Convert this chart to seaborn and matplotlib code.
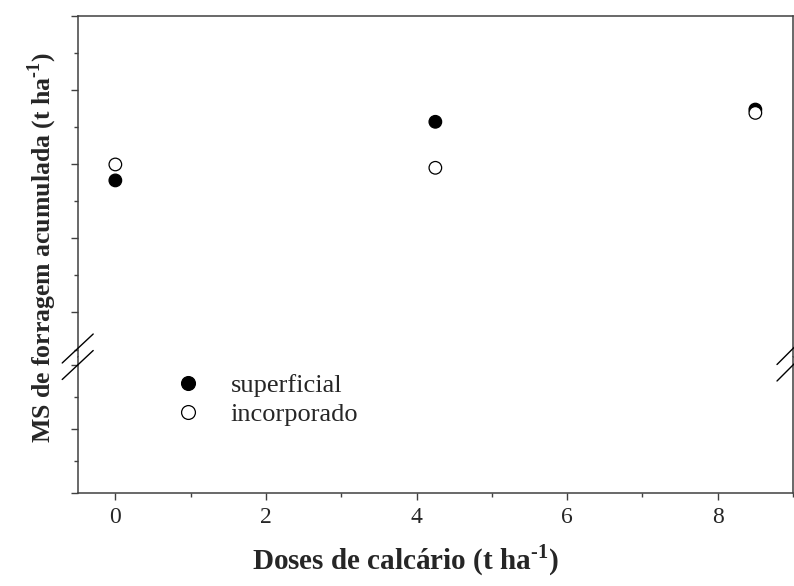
import pandas as pd
import matplotlib
matplotlib.use("Agg")
import matplotlib.pyplot as plt
from matplotlib.lines import Line2D
from matplotlib.ticker import MultipleLocator, NullFormatter
import seaborn as sns

sns.set_style("ticks")
plt.rcParams["font.family"] = ["Liberation Serif", "DejaVu Serif"]
plt.rcParams["mathtext.fontset"] = "custom"
plt.rcParams["mathtext.rm"] = "Liberation Serif"
plt.rcParams["mathtext.bf"] = "Liberation Serif:bold"

# data (y axis carries no labels, units are relative)
doses = [0, 4.25, 8.5]
superficial = [13.56, 15.14, 15.47]
incorporado = [13.99, 13.90, 15.38]
series_names = ["superficial", "incorporado"]

df = pd.DataFrame({
    "dose": doses * 2,
    "ms": superficial + incorporado,
    "metodo": [series_names[0]] * 3 + [series_names[1]] * 3,
})

W, H = 794, 586
fig = plt.figure(figsize=(W / 100, H / 100), dpi=100)

def fx(px):
    return px / W

def fy(py):
    return 1 - py / H

left, right = 77.7, 793.0
top, brk, bottom = 15.7, 357.0, 493.0
ax_top = fig.add_axes([fx(left), fy(brk), fx(right) - fx(left), fy(top) - fy(brk)])
ax_bot = fig.add_axes([fx(left), fy(bottom), fx(right) - fx(left), fy(brk) - fy(bottom)])

sns.scatterplot(data=df, x="dose", y="ms", hue="metodo",
                palette={"superficial": "black", "incorporado": "white"},
                edgecolor="black", linewidth=0.9, s=82, ax=ax_top, zorder=3)

spine_c = "#404040"
for ax in (ax_top, ax_bot):
    ax.set_xlim(-0.5, 9)
    for sp in ax.spines.values():
        sp.set_color(spine_c)
        sp.set_linewidth(1.1)
    ax.tick_params(which="both", direction="out", color=spine_c, width=1.0,
                   labelleft=False)
    ax.tick_params(which="major", length=5.2)
    ax.tick_params(which="minor", length=3.2)
    ax.set_xlabel("")
    ax.set_ylabel("")
    ax.yaxis.set_minor_locator(MultipleLocator(1))
    ax.yaxis.set_major_locator(MultipleLocator(2))
    ax.yaxis.set_major_formatter(NullFormatter())

ax_top.set_ylim(8.8, 18)
ax_bot.set_ylim(0, 4.25)
ax_top.spines["bottom"].set_visible(False)
ax_bot.spines["top"].set_visible(False)
ax_top.tick_params(which="both", bottom=False, labelbottom=False)

ax_bot.xaxis.set_major_locator(MultipleLocator(2))
ax_bot.xaxis.set_minor_locator(MultipleLocator(1))
ax_bot.tick_params(axis="x", which="major", labelsize=17, pad=5)

# legend
handles, labels = ax_top.get_legend_handles_labels()
ax_top.get_legend().remove()
fig.legend(handles, labels, loc="upper left",
           bbox_to_anchor=(fx(175), fy(374)), frameon=False,
           fontsize=19, handlelength=1.0, handletextpad=1.1,
           labelspacing=0.2, borderpad=0, borderaxespad=0,
           markerscale=1.1)

# axis labels
sup = "$^{\\mathbf{\u2010 1}}$"
fig.text(fx(405), fy(560), "Doses de calcário (t ha" + sup + ")",
         ha="center", va="center", fontsize=21, fontweight="bold")
fig.text(fx(42), fy(248), "MS de forragem acumulada (t ha" + sup + ")",
         ha="center", va="center", rotation=90, fontsize=18.5, fontweight="bold")

# axis break marks
for cy in (348.5, 365.0):
    fig.add_artist(Line2D([fx(left - 15.5), fx(left + 15.5)],
                          [fy(cy + 14.5), fy(cy - 14.5)],
                          transform=fig.transFigure, color="black", lw=1.0))
    fig.add_artist(Line2D([fx(right - 16), fx(right + 16)],
                          [fy(cy + 16), fy(cy - 16)],
                          transform=fig.transFigure, color="black", lw=1.0))

fig.savefig("out.png", dpi=100)
